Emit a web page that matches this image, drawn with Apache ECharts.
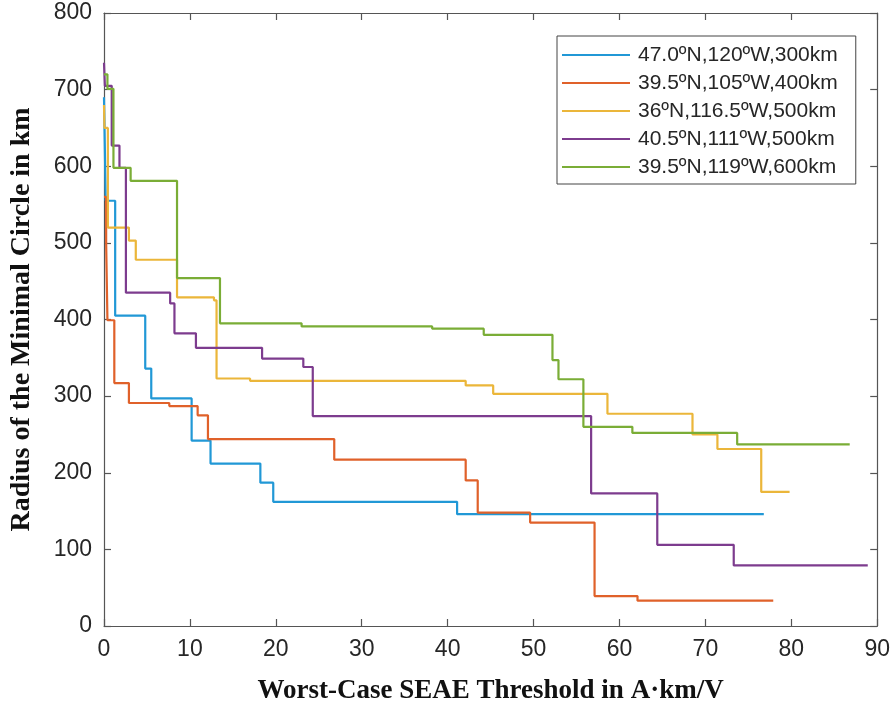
<!DOCTYPE html>
<html>
<head>
<meta charset="utf-8">
<script src="https://cdn.jsdelivr.net/npm/echarts@6/dist/echarts.min.js"></script>
<style>
  html, body { margin: 0; padding: 0; background: #ffffff; }
  #chart { width: 893px; height: 711px; }
</style>
</head>
<body>
<div id="chart"></div>
<script>
// Step curves: each [threshold, radius] pair holds its radius until the next threshold.
const seriesNames = [
  '47.0ºN,120ºW,300km',
  '39.5ºN,105ºW,400km',
  '36ºN,116.5ºW,500km',
  '40.5ºN,111ºW,500km',
  '39.5ºN,119ºW,600km'
];

const site1 = [[0, 690], [0.2, 555], [1.3, 405], [4.8, 336], [5.5, 297], [10.2, 242], [12.4, 212],
  [18.2, 187], [19.7, 162], [41.1, 146], [76.8, 146]];
const site2 = [[0, 560], [0.25, 500], [0.4, 399], [1.2, 317], [2.9, 291], [7.6, 287], [10.9, 275],
  [12.1, 244], [26.8, 217], [42.1, 190], [43.5, 148], [49.6, 135], [57.1, 39], [62.1, 33], [77.9, 33]];
const site3 = [[0, 680], [0.05, 650], [0.45, 520], [2.9, 503], [3.7, 478], [8.5, 429], [12.8, 425],
  [13.1, 323], [17.0, 320], [42.1, 314], [45.3, 303], [58.6, 277], [68.5, 250], [71.4, 231],
  [76.5, 175], [79.8, 175]];
const site4 = [[0, 735], [0.1, 705], [0.9, 627], [1.8, 598], [2.55, 435], [7.7, 421], [8.2, 382],
  [10.7, 363], [18.4, 349], [23.2, 338], [24.3, 274], [56.7, 173], [64.4, 106], [73.3, 79], [88.9, 79]];
const site5 = [[0, 720], [0.4, 701], [1.1, 598], [3.1, 581], [8.5, 454], [13.5, 395], [23.0, 391],
  [38.2, 388], [44.2, 380], [52.2, 347], [52.9, 322], [55.8, 260], [61.5, 252], [73.7, 237], [86.8, 237]];

const seriesData = [site1, site2, site3, site4, site5];
const colors = ['#2198d6', '#e0612a', '#ebb63a', '#7d3c8e', '#7aad36'];

const xTicks = [0, 10, 20, 30, 40, 50, 60, 70, 80, 90];
const yTicks = [0, 100, 200, 300, 400, 500, 600, 700, 800];

const axisColor = '#555555';
const tickFont = { fontFamily: 'Liberation Sans, Arial, sans-serif', fontSize: 23, color: '#262626' };
const xNameFont = { fontFamily: 'Liberation Serif, Times New Roman, serif', fontSize: 27,
  fontWeight: 'bold', color: '#111111' };
const yNameFont = Object.assign({}, xNameFont, { fontSize: 28 });

function boxAxis(position, min, max, interval, showLabels, extra) {
  return Object.assign({
    type: 'value', position: position, min: min, max: max, interval: interval,
    axisLine: { show: true, onZero: false, lineStyle: { color: axisColor, width: 1.2 } },
    axisTick: { show: true, inside: true, length: 7, lineStyle: { color: axisColor, width: 1.2 } },
    axisLabel: showLabels ? Object.assign({ margin: 12 }, tickFont) : { show: false },
    splitLine: { show: false }
  }, extra || {});
}

const chart = echarts.init(document.getElementById('chart'), null, { renderer: 'canvas' });

chart.setOption({
  animation: false,
  backgroundColor: '#ffffff',
  grid: { left: 100, right: 15, top: 13, bottom: 85, containLabel: false },
  xAxis: [
    boxAxis('bottom', xTicks[0], xTicks[xTicks.length - 1], 10, true, {
      name: 'Worst-Case SEAE Threshold in A·km/V', nameLocation: 'middle', nameGap: 52,
      nameTextStyle: xNameFont
    }),
    boxAxis('top', xTicks[0], xTicks[xTicks.length - 1], 10, false)
  ],
  yAxis: [
    boxAxis('left', yTicks[0], yTicks[yTicks.length - 1], 100, true, {
      name: 'Radius of the Minimal Circle in km', nameLocation: 'middle', nameGap: 68,
      nameRotate: 90, nameTextStyle: yNameFont
    }),
    boxAxis('right', yTicks[0], yTicks[yTicks.length - 1], 100, false)
  ],
  legend: {
    orient: 'vertical',
    left: 557, top: 36,
    padding: [7, 18, 5, 5],
    icon: 'rect',
    itemWidth: 68, itemHeight: 2.2, itemGap: 4,
    backgroundColor: '#ffffff',
    borderColor: '#444444', borderWidth: 1, borderRadius: 0,
    textStyle: { fontFamily: 'Liberation Sans, Arial, sans-serif', fontSize: 21, color: '#262626',
      lineHeight: 24, padding: [0, 0, 0, 3] },
    data: seriesNames
  },
  series: seriesData.map(function (d, i) {
    return {
      name: seriesNames[i], type: 'line', step: 'end', data: d,
      xAxisIndex: 0, yAxisIndex: 0,
      symbol: 'none', showSymbol: false,
      lineStyle: { color: colors[i], width: 2.2 },
      itemStyle: { color: colors[i] }
    };
  })
});
</script>
</body>
</html>
